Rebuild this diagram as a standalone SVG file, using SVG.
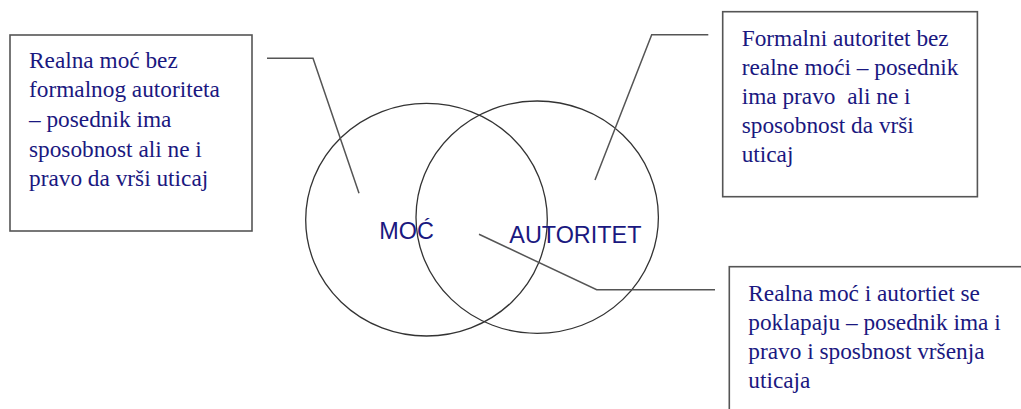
<svg xmlns="http://www.w3.org/2000/svg" width="1021" height="409" viewBox="0 0 1021 409">
<style>
.box{fill:#fff;stroke:#555;stroke-width:1.6}
.txt{font-family:"Liberation Serif","Times New Roman",serif;font-size:23.3px;fill:#1a1880}
.lbl{font-family:"Liberation Sans",Arial,sans-serif;font-size:23.4px;fill:#1a1880}
.circ{fill:none;stroke:#333;stroke-width:1.3}
.conn{fill:none;stroke:#555;stroke-width:1.5}
</style>
<rect width="1021" height="409" fill="#fff"/>
<g id="venn">
<ellipse id="moc" class="circ" cx="426.5" cy="219.7" rx="120.8" ry="116.3"/>
<ellipse id="autoritet" class="circ" cx="537.2" cy="217.2" rx="121.2" ry="116.2"/>
<text class="lbl" x="379.3" y="239.3">MOĆ</text>
<text class="lbl" x="509.3" y="242.7">AUTORITET</text>
</g>
<g id="connectors">
<polyline class="conn" points="267,58.3 313,58.3 359,193.3"/>
<polyline class="conn" points="595,180 651.7,34.7 708.3,34.7"/>
<polyline class="conn" points="479,234.3 596.7,289.7 715,289.7"/>
</g>
<g id="box-left">
<rect class="box" x="10" y="35" width="242" height="196"/>
<text class="txt" x="29"><tspan x="29" y="67.5">Realna moć bez</tspan><tspan x="29" y="97.2">formalnog autoriteta</tspan><tspan x="29" y="126.9">– posednik ima</tspan><tspan x="29" y="156.6">sposobnost ali ne i</tspan><tspan x="29" y="186.3">pravo da vrši uticaj</tspan></text>
</g>
<g id="box-top-right">
<rect class="box" x="722.7" y="11.7" width="254.7" height="185"/>
<text class="txt"><tspan x="741.7" y="46">Formalni autoritet bez</tspan><tspan x="741.7" y="75">realne moći – posednik</tspan><tspan x="741.7" y="104" xml:space="preserve">ima pravo  ali ne i</tspan><tspan x="741.7" y="133">sposobnost da vrši</tspan><tspan x="741.7" y="162">uticaj</tspan></text>
</g>
<g id="box-bottom-right">
<rect class="box" x="729.3" y="266.7" width="310" height="160"/>
<text class="txt"><tspan x="748.3" y="300.7">Realna moć i autortiet se</tspan><tspan x="748.3" y="330">poklapaju – posednik ima i</tspan><tspan x="748.3" y="359.3">pravo i sposbnost vršenja</tspan><tspan x="748.3" y="388">uticaja</tspan></text>
</g>
</svg>
